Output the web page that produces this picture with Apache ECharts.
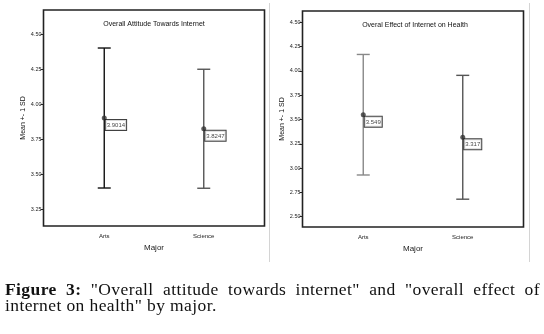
<!DOCTYPE html>
<html>
<head>
<meta charset="utf-8">
<script src="https://cdn.jsdelivr.net/npm/echarts@6/dist/echarts.min.js"></script>
<style>
  body { margin: 0; background: #fff; }
  #chart { position: absolute; left: 0; top: 0; width: 544px; height: 334px; }
  #caption {
    position: absolute; left: 5px; top: 281px; width: 535px;
    font-family: 'Liberation Serif', 'DejaVu Serif', serif;
    font-size: 17.5px; line-height: 16px; letter-spacing: 0.4px; color: #111;
  }
  #caption .l1 { text-align: justify; text-align-last: justify; }
</style>
</head>
<body>
<div id="chart"></div>
<div id="caption">
  <div class="l1"><b>Figure 3:</b> "Overall attitude towards internet" and "overall effect of</div>
  <div>internet on health" by major.</div>
</div>
<script>
const categories = ['Arts', 'Science']

// Overall attitude towards internet (mean, 1 SD)
const attitudeMean = [3.9014, 3.8247]
const attitudeSD = [0.50, 0.425]
const attitudeTicks = [3.25, 3.5, 3.75, 4.0, 4.25, 4.5]

// Overall effect of internet on health (mean, 1 SD)
const healthMean = [3.549, 3.317]
const healthSD = [0.62, 0.637]
const healthTicks = [2.5, 2.75, 3.0, 3.25, 3.5, 3.75, 4.0, 4.25, 4.5]

const attitudeColors = ['#111', '#555']
const healthColors = ['#888', '#555']

const FONT = "'Liberation Sans Narrow', 'Liberation Sans', Arial, sans-serif"
const D = 11 // inset of category area inside frame

const frames = [
  { x: 43.5, y: 10, w: 221, h: 216 },
  { x: 302.5, y: 11, w: 221, h: 216 }
]

const chart = echarts.init(document.getElementById('chart'))

function barData(mean, sd) {
  return categories.map((c, i) => [i, mean[i] - sd[i], mean[i] + sd[i]])
}

function makeRender(colors) {
  return function (params, api) {
    const i = api.value(0)
    const lo = api.coord([i, api.value(1)])
    const hi = api.coord([i, api.value(2)])
    const cap = 6.5
    const style = { stroke: colors[params.dataIndex], lineWidth: 1.4 }
    return {
      type: 'group',
      children: [
        { type: 'line', shape: { x1: lo[0], y1: lo[1], x2: hi[0], y2: hi[1] }, style },
        { type: 'line', shape: { x1: hi[0] - cap, y1: hi[1], x2: hi[0] + cap, y2: hi[1] }, style },
        { type: 'line', shape: { x1: lo[0] - cap, y1: lo[1], x2: lo[0] + cap, y2: lo[1] }, style }
      ]
    }
  }
}

function yAxis(idx, min, max, ticks) {
  return {
    gridIndex: idx,
    type: 'value',
    min: min,
    max: max,
    offset: D,
    axisLine: { show: false },
    splitLine: { show: false },
    axisTick: { show: true, length: 3, customValues: ticks, lineStyle: { color: '#222', width: 1 } },
    axisLabel: {
      customValues: ticks,
      formatter: v => v.toFixed(2),
      fontSize: 5.5, margin: 2, color: '#222', fontFamily: FONT
    },
    name: 'Mean +- 1 SD',
    nameLocation: 'middle',
    nameGap: 14,
    nameTextStyle: { fontSize: 7, color: '#111', fontFamily: FONT }
  }
}

function xAxis(idx) {
  return {
    gridIndex: idx,
    type: 'category',
    data: categories,
    boundaryGap: true,
    axisLine: { show: false },
    axisTick: { show: false },
    axisLabel: { fontSize: 6, margin: 7, color: '#222', fontFamily: FONT },
    name: 'Major',
    nameLocation: 'middle',
    nameGap: 18,
    nameTextStyle: { fontSize: 8, color: '#222', fontFamily: FONT }
  }
}

const meanLabel = {
  show: true,
  position: [4, 4.5],
  formatter: p => String(p.value[1]),
  fontSize: 6,
  lineHeight: 7,
  color: '#111',
  fontFamily: FONT,
  backgroundColor: '#fff',
  borderColor: '#111',
  borderWidth: 1,
  padding: [2, 1, 1, 1]
}

const option = {
  backgroundColor: '#fff',
  animation: false,
  grid: frames.map(f => ({ left: f.x + D, top: f.y, width: f.w - 2 * D, height: f.h })),
  xAxis: [xAxis(0), xAxis(1)],
  yAxis: [
    yAxis(0, 3.13, 4.673, attitudeTicks),
    yAxis(1, 2.394, 4.616, healthTicks)
  ],
  graphic: [
    ...frames.map(f => ({
      type: 'rect', z: 10,
      shape: { x: f.x, y: f.y, width: f.w, height: f.h },
      style: { fill: 'none', stroke: '#222', lineWidth: 1.6 }
    })),
    { type: 'line', shape: { x1: 269.5, y1: 3, x2: 269.5, y2: 262 }, style: { stroke: '#d4d4d4', lineWidth: 1 } },
    { type: 'line', shape: { x1: 529.5, y1: 3, x2: 529.5, y2: 262 }, style: { stroke: '#d4d4d4', lineWidth: 1 } },
    {
      type: 'text', x: frames[0].x + frames[0].w / 2, y: 24,
      style: { text: 'Overall Attitude Towards Internet', align: 'center', verticalAlign: 'middle', fontSize: 7, fontFamily: FONT, fill: '#111' }
    },
    {
      type: 'text', x: frames[1].x + frames[1].w / 2 + 2, y: 25,
      style: { text: 'Overal Effect of Internet on Health', align: 'center', verticalAlign: 'middle', fontSize: 7, fontFamily: FONT, fill: '#111' }
    }
  ],
  series: [
    {
      type: 'custom', xAxisIndex: 0, yAxisIndex: 0,
      renderItem: makeRender(attitudeColors),
      data: barData(attitudeMean, attitudeSD)
    },
    {
      type: 'custom', xAxisIndex: 1, yAxisIndex: 1,
      renderItem: makeRender(healthColors),
      data: barData(healthMean, healthSD)
    },
    {
      type: 'scatter', xAxisIndex: 0, yAxisIndex: 0, z: 5,
      symbolSize: 5, itemStyle: { color: '#333' },
      label: meanLabel,
      data: categories.map((c, i) => [i, attitudeMean[i]])
    },
    {
      type: 'scatter', xAxisIndex: 1, yAxisIndex: 1, z: 5,
      symbolSize: 5, itemStyle: { color: '#333' },
      label: meanLabel,
      data: categories.map((c, i) => [i, healthMean[i]])
    }
  ]
}

chart.setOption(option)
</script>
</body>
</html>
